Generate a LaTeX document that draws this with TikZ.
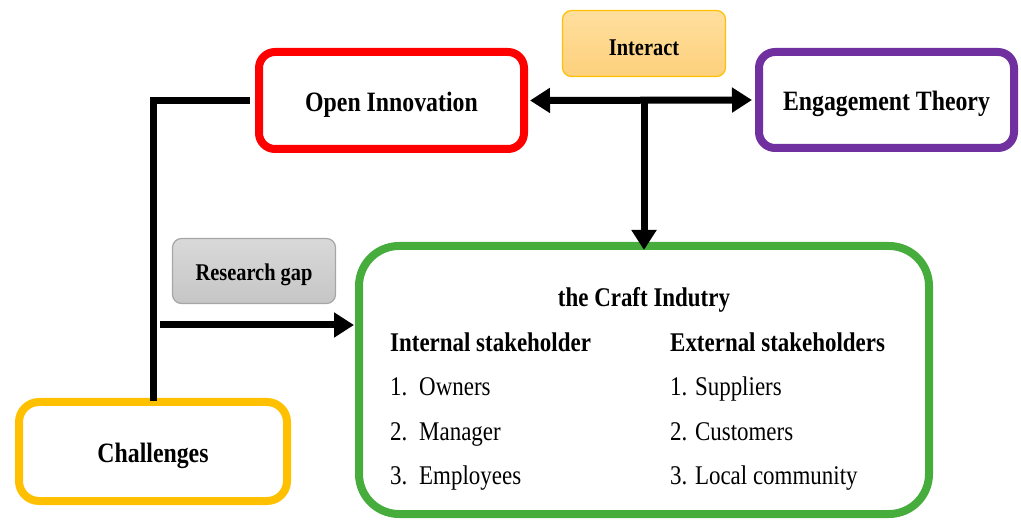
\documentclass[tikz,border=0pt]{standalone}
\usepackage{fontspec}
\setmainfont{Liberation Serif}
\newfontfamily\condfont{Liberation Serif}[FakeStretch=0.85]
\usetikzlibrary{arrows.meta}
\definecolor{oired}{HTML}{FF0000}
\definecolor{etpurple}{HTML}{7030A0}
\definecolor{crgreen}{HTML}{46AD3C}
\definecolor{chyellow}{HTML}{FFC000}
\definecolor{iatop}{HTML}{FFDF9E}
\definecolor{iabottom}{HTML}{FDD07C}
\newcommand{\boxtext}[1]{\raisebox{-4pt}[\height][\depth]{#1}}
\tikzset{
  box/.style={draw, line width=8pt, rounded corners=16pt, align=center,
    font=\condfont\bfseries\fontsize{28}{32}\selectfont},
  tag/.style={draw, line width=1.2pt, rounded corners=9pt, align=center,
    font=\condfont\bfseries\fontsize{24}{28}\selectfont},
  link/.style={line width=7pt},
  bigtip/.tip={Triangle[width=24pt,length=20pt]},
  item/.style={anchor=base west, inner sep=0pt, font=\condfont\fontsize{27}{30}\selectfont},
  head/.style={anchor=base west, inner sep=0pt, font=\condfont\bfseries\fontsize{27}{30}\selectfont},
}
\begin{document}
\begin{tikzpicture}[x=1pt,y=-1pt]
  \useasboundingbox (0,0) rectangle (1021,521);
  % boxes
  \node[box, draw=oired, minimum width=265pt, minimum height=97pt] (oi) at (391.5,100.5) {\boxtext{Open Innovation}};
  \node[box, draw=etpurple, minimum width=255pt, minimum height=96pt] (et) at (886.5,100) {\boxtext{Engagement Theory}};
  \node[box, draw=chyellow, rounded corners=20pt, minimum width=268pt, minimum height=99pt] (ch) at (153,451.5) {\boxtext{Challenges}};
  \node[box, draw=crgreen, rounded corners=40pt, minimum width=570pt, minimum height=268pt] (cr) at (644,380) {};
  \node[tag, draw=chyellow, top color=iatop, bottom color=iabottom, minimum width=163pt, minimum height=66pt] (ia) at (644,43.5) {\boxtext{Interact}};
  \node[tag, draw=gray!70, top color=gray!30, bottom color=gray!45, minimum width=163pt, minimum height=65pt] (rg) at (254,271) {\boxtext{Research gap}};
  % craft industry contents
  \node[head, anchor=base] (title) at (644,307) {the Craft Indutry};
  \node[head] (int) at (390,352) {Internal stakeholder};
  \node[head] (ext) at (670,352) {External stakeholders};
  \foreach \y/\num/\who in {396/1/Owners, 441/2/Manager, 485/3/Employees}
  {	\node[item] (in\num) at (390,\y) {\num.};
    \node[item] (iw\num) at (419,\y) {\who};
  }
  \foreach \y/\num/\who in {396/1/Suppliers, 441/2/Customers, 485/3/Local community}
  {	\node[item] (ex\num) at (670,\y) {\num. \who};
  }
  % connectors
  \coordinate (gap) at (160,325);
  \draw[link, bigtip-bigtip, shorten <=2pt, shorten >=3pt] (oi.east) -- (et.west);
  \draw[link, -bigtip] (oi.east -| cr.north) -- ([yshift=-8pt]cr.north);
  \draw[link, line cap=rect, shorten <=9pt] (oi.west) -| (ch.north);
  \draw[link, -bigtip] (gap) -- ([xshift=-1pt]gap -| cr.west);
\end{tikzpicture}
\end{document}
